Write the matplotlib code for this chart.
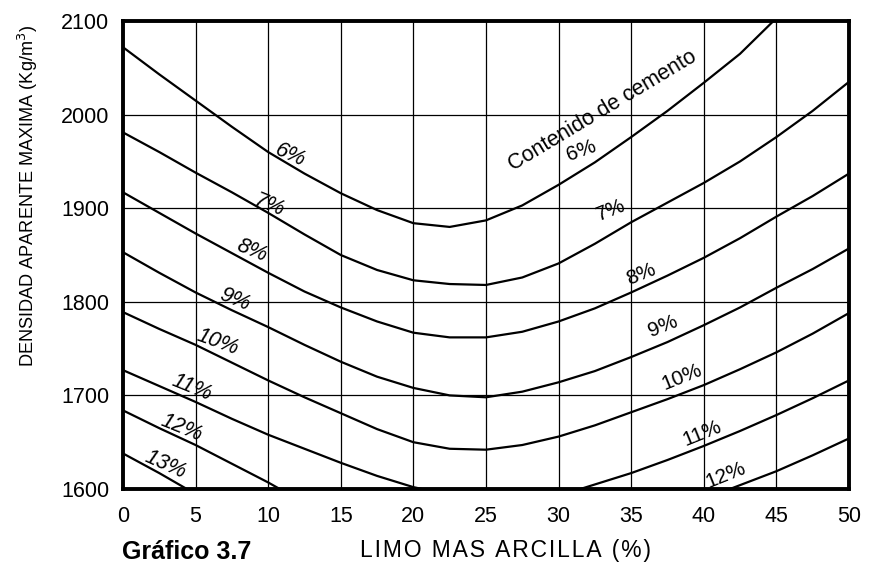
import matplotlib
matplotlib.use("Agg")
import matplotlib.pyplot as plt

plt.rcParams['font.family'] = ['Liberation Sans', 'DejaVu Sans']

# Limo + arcilla (%) and maximum dry density (kg/m3) per cement content
x_full = [0, 2.5, 5, 7.5, 10, 12.5, 15, 17.5, 20, 22.5, 25, 27.5, 30, 32.5, 35, 37.5, 40, 42.5, 45, 47.5, 50]

x_c6 = [0, 2.5, 5, 7.5, 10, 12.5, 15, 17.5, 20, 22.5, 25, 27.5, 30, 32.5, 35, 37.5, 40, 42.5, 44.8]
y_c6 = [2072, 2043, 2015, 1987, 1960, 1937, 1916, 1898, 1884, 1880, 1887, 1903, 1925, 1949, 1976, 2004, 2034, 2065, 2100]

y_c7 = [1981, 1960, 1938, 1917, 1895, 1872, 1850, 1834, 1823, 1819, 1818, 1826, 1841, 1862, 1885, 1906, 1927, 1950, 1976, 2004, 2035]
y_c8 = [1917, 1895, 1873, 1852, 1831, 1811, 1794, 1779, 1767, 1762, 1762, 1768, 1779, 1793, 1810, 1828, 1847, 1868, 1891, 1913, 1937]
y_c9 = [1853, 1831, 1810, 1791, 1773, 1754, 1736, 1720, 1708, 1700, 1698, 1704, 1714, 1726, 1741, 1757, 1775, 1794, 1815, 1835, 1857]
y_c10 = [1789, 1771, 1754, 1735, 1716, 1698, 1681, 1664, 1650, 1643, 1642, 1647, 1656, 1668, 1682, 1696, 1711, 1728, 1746, 1766, 1788]

x_c11_a = [0, 2.5, 5, 7.5, 10, 12.5, 15, 17.5, 20, 20.6]
y_c11_a = [1727, 1710, 1693, 1675, 1658, 1643, 1628, 1614, 1602, 1600]
x_c11_b = [31.5, 35, 37.5, 40, 42.5, 45, 47.5, 50]
y_c11_b = [1600, 1617, 1631, 1646, 1662, 1679, 1697, 1716]

x_c12_a = [0, 2.5, 5, 7.5, 10, 10.8]
y_c12_a = [1684, 1665, 1647, 1627, 1607, 1600]
x_c12_b = [41.8, 45, 47.5, 50]
y_c12_b = [1600, 1619, 1636, 1654]

x_c13 = [0, 2.5, 4.4]
y_c13 = [1638, 1617, 1600]

x_ticks = [0, 5, 10, 15, 20, 25, 30, 35, 40, 45, 50]
y_ticks = [1600, 1700, 1800, 1900, 2000, 2100]

# curve labels: (text, x, y, rotation)
left_labels = [
    ("6%", 11.5, 1957, -24),
    ("7%", 10.1, 1903, -22),
    ("8%", 8.9, 1855, -22),
    ("9%", 7.7, 1802, -22),
    ("10%", 6.5, 1757, -20),
    ("11%", 4.75, 1708, -22),
    ("12%", 4.06, 1665, -22),
    ("13%", 2.9, 1626, -24),
]
right_labels = [
    ("7%", 33.6, 1898, 22),
    ("8%", 35.7, 1829, 22),
    ("9%", 37.2, 1774, 22),
    ("10%", 38.5, 1720, 22),
    ("11%", 39.9, 1660, 22),
    ("12%", 41.5, 1615, 22),
]

fig = plt.figure(figsize=(8.71, 5.65), dpi=100)
ax = fig.add_axes([0.1412, 0.1345, 0.8335, 0.8283])

line_kw = dict(color="black", lw=1.6, solid_capstyle="round")
ax.plot(x_c6, y_c6, **line_kw)
ax.plot(x_full, y_c7, **line_kw)
ax.plot(x_full, y_c8, **line_kw)
ax.plot(x_full, y_c9, **line_kw)
ax.plot(x_full, y_c10, **line_kw)
ax.plot(x_c11_a, y_c11_a, **line_kw)
ax.plot(x_c11_b, y_c11_b, **line_kw)
ax.plot(x_c12_a, y_c12_a, **line_kw)
ax.plot(x_c12_b, y_c12_b, **line_kw)
ax.plot(x_c13, y_c13, **line_kw)

ax.set_xlim(0, 50)
ax.set_ylim(1600, 2100)
ax.set_xticks(x_ticks)
ax.set_yticks(y_ticks)
ax.tick_params(length=0, labelsize=15.5, colors="black")
ax.tick_params(axis="x", pad=12)
ax.tick_params(axis="y", pad=10)
ax.grid(True, color="black", lw=0.9)
ax.set_axisbelow(True)
for s in ax.spines.values():
    s.set_linewidth(2.8)
    s.set_color("black")

for txt, x, y, rot in left_labels:
    ax.text(x, y, txt, rotation=rot, fontsize=15.5, style="italic",
            ha="center", va="center", rotation_mode="anchor")
for txt, x, y, rot in right_labels:
    ax.text(x, y, txt, rotation=rot, fontsize=15,
            ha="center", va="center", rotation_mode="anchor")

ax.text(33.0, 2004, "Contenido de cemento", rotation=31, fontsize=15.5,
        ha="center", va="center", rotation_mode="anchor")
ax.text(31.6, 1962, "6%", rotation=20, fontsize=15,
        ha="center", va="center", rotation_mode="anchor")

fig.text(28 / 871, 1 - 196 / 565, "DENSIDAD APARENTE MAXIMA (Kg/m$^3$)",
         rotation=90, fontsize=13.1, ha="center", va="center")
fig.text(505 / 871, 1 - 550 / 565, "\u200a".join("LIMO MAS ARCILLA (%)"),
         fontsize=16.5, ha="center", va="center")
fig.text(122 / 871, 1 - 552 / 565, "Gráfico 3.7", fontsize=18,
         fontweight="bold", ha="left", va="center")

fig.savefig("out.png", dpi=100, facecolor="white")
